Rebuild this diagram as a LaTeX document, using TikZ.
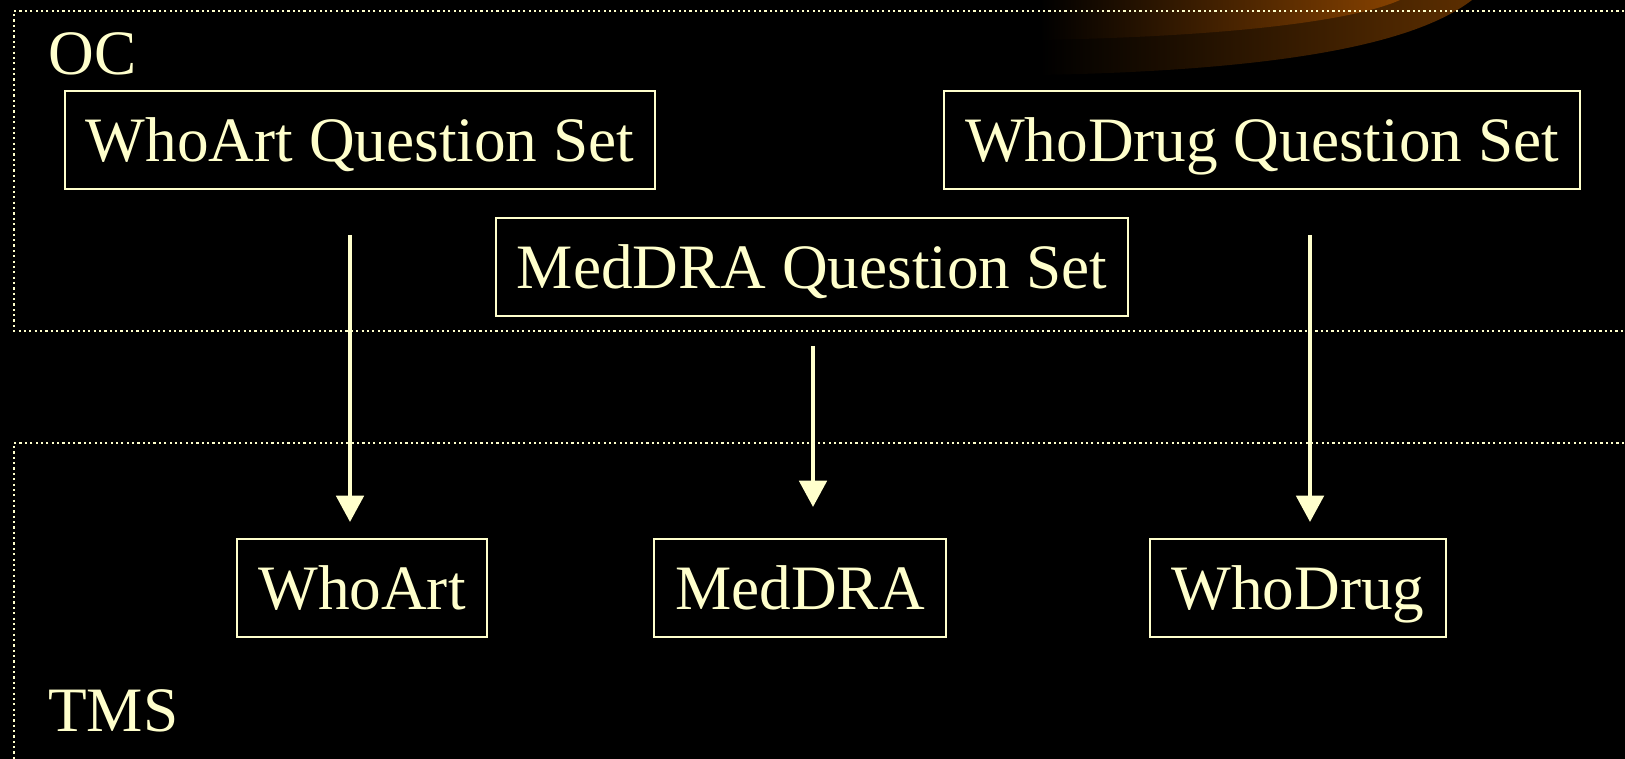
\documentclass[tikz,border=0pt]{standalone}
\usepackage{fontspec}
\setmainfont{Liberation Serif}
\usepackage{xcolor}
\usetikzlibrary{arrows.meta}
\definecolor{cream}{HTML}{FFFFCC}
\definecolor{swoosha}{RGB}{92,46,0}
\definecolor{swooshb}{RGB}{135,66,0}

\begin{document}
\begin{tikzpicture}[x=0.02cm, y=-0.02cm,
  setbox/.style={draw=cream, line width=1.1pt, text=cream, inner xsep=12pt, text height=24pt, text depth=0pt, minimum height=55.6pt, font=\fontsize{36}{40}\selectfont},
  layer/.style={cream, line width=1.25pt, dash pattern=on 1.25pt off 1.8pt},
  flow/.style={cream, line width=2.5pt, -{Triangle[width=15.5pt, length=15pt]}},
  tag/.style={text=cream, inner sep=0pt, anchor=base west, font=\fontsize{36}{40}\selectfont}]
% background
\fill[black] (0,0) rectangle (1625,759);
\useasboundingbox (0,0) rectangle (1625,759);
% swoosh in the corner
\shade[left color=black, right color=swoosha] (1040,0) -- (1040,75) .. controls (1300,70) and (1420,40) .. (1472,0) -- cycle;
\shade[left color=black, right color=swooshb] (1040,0) -- (1040,40) .. controls (1250,36) and (1360,18) .. (1400,0) -- cycle;
% OC layer
\draw[layer] (1640,11) -- (14,11) -- (14,331) -- (1640,331);
\node[tag] (oc) at (48,75) {OC};
% TMS layer
\draw[layer] (1640,443) -- (14,443) -- (14,770);
\node[tag] (tms) at (48,731) {TMS};
% question sets
\node[setbox] (qsart) at (360,140) {WhoArt Question Set};
\node[setbox] (qsdrug) at (1262,140) {WhoDrug Question Set};
\node[setbox] (qsmed) at (812,267) {MedDRA Question Set};
% dictionaries
\node[setbox] (art) at (362,588) {WhoArt};
\node[setbox] (med) at (800,588) {MedDRA};
\node[setbox] (drug) at (1298,588) {WhoDrug};
% arrows
\coordinate (artin) at (350,235);
\coordinate (artout) at (350,522);
\coordinate (medin) at (813,346);
\coordinate (medout) at (813,507);
\coordinate (drugin) at (1310,235);
\coordinate (drugout) at (1310,522);
\draw[flow] (artin) -- (artout);
\draw[flow] (medin) -- (medout);
\draw[flow] (drugin) -- (drugout);
\end{tikzpicture}
\end{document}
